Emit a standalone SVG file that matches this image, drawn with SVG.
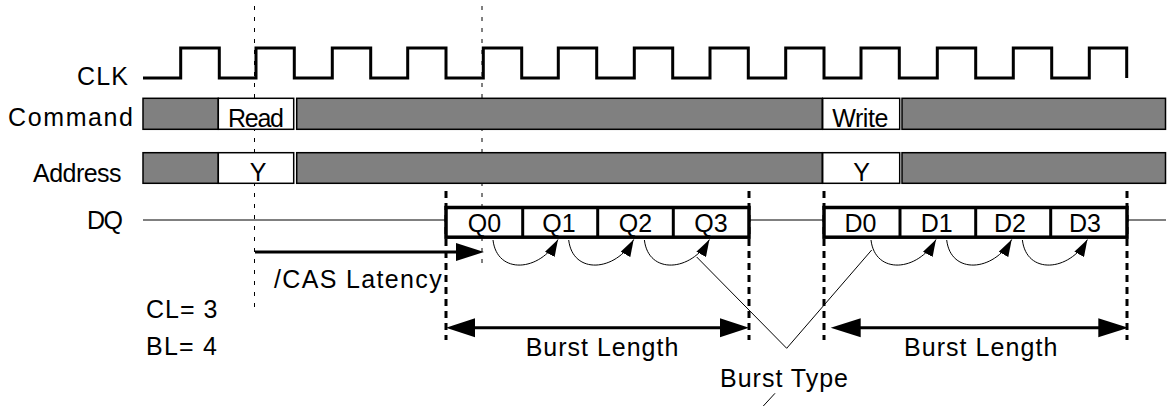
<svg xmlns="http://www.w3.org/2000/svg" width="1168" height="406" viewBox="0 0 1168 406">
<style>
text{font-family:"Liberation Sans",Arial,sans-serif;font-size:25px;fill:#000}
.cell{font-size:25px}
.mid{text-anchor:middle}
.gray{fill:#808080;stroke:#000;stroke-width:1.5}
.white{fill:#fff;stroke:#000;stroke-width:1.5}
.dq{fill:#fff;stroke:#000;stroke-width:3.5}
.thin{fill:none;stroke:#000;stroke-width:1}
.tdash{fill:none;stroke:#000;stroke-width:1;stroke-dasharray:4 7}
.kdash{fill:none;stroke:#000;stroke-width:3;stroke-dasharray:7 5}
.bold{fill:none;stroke:#000;stroke-width:3}
.head{fill:#000;stroke:none}
.arc{fill:none;stroke:#000;stroke-width:1;marker-end:url(#ah)}
</style>
<defs>
<marker id="ah" viewBox="0 0 17 11" refX="17" refY="5.5" markerWidth="17" markerHeight="11" markerUnits="userSpaceOnUse" orient="auto">
<path d="M0,0 L17,5.5 L0,11 Z" fill="#000"/>
</marker>
</defs>
<rect width="1168" height="406" fill="#fff"/>

<g id="guides">
<line class="tdash" x1="254.5" y1="6" x2="254.5" y2="308"/>
<line class="tdash" x1="482" y1="6" x2="482" y2="265"/>
<line class="kdash" x1="446" y1="191" x2="446" y2="340"/>
<line class="kdash" x1="749" y1="191" x2="749" y2="340"/>
<line class="kdash" x1="824" y1="191" x2="824" y2="340"/>
<line class="kdash" x1="1127" y1="191" x2="1127" y2="340"/>
</g>

<g id="clk">
<text x="77" y="84.5" textLength="51">CLK</text>
<path class="bold" stroke-width="2.5" d="M143,78 H180.7 V48 H219.3 V78 H256 V48 H294.3 V78 H332.3 V48 H370.7 V78 H407.7 V48 H446 V78 H483.3 V48 H521.7 V78 H558.3 V48 H596.7 V78 H634.3 V48 H672.7 V78 H710 V48 H748.3 V78 H785.7 V48 H824 V78 H861 V48 H899.3 V78 H937.3 V48 H975.7 V78 H1013.3 V48 H1051.7 V78 H1089.3 V48 H1126.7 V78"/>
</g>

<g id="command">
<text x="8" y="126" textLength="125">Command</text>
<rect class="gray" x="143" y="98.3" width="75.3" height="31"/>
<rect class="white" x="218.3" y="98.3" width="75.4" height="31"/>
<rect class="gray" x="296.7" y="98.3" width="525.5" height="31"/>
<rect class="white" x="822.7" y="98.3" width="77" height="31"/>
<rect class="gray" x="902" y="98.3" width="263.5" height="31"/>
<text class="cell mid" x="256" y="127" textLength="56">Read</text>
<text class="cell" x="832.3" y="127" textLength="56">Write</text>
</g>

<g id="address">
<text x="33" y="181.5" textLength="88.5">Address</text>
<rect class="gray" x="143" y="152.7" width="75.3" height="30.6"/>
<rect class="white" x="218.3" y="152.7" width="75.4" height="30.6"/>
<rect class="gray" x="296.7" y="152.7" width="525.5" height="30.6"/>
<rect class="white" x="822.7" y="152.7" width="77" height="30.6"/>
<rect class="gray" x="902" y="152.7" width="263.5" height="30.6"/>
<text class="cell mid" x="258" y="181">Y</text>
<text class="cell mid" x="861.7" y="181">Y</text>
</g>

<g id="dq">
<text x="87" y="229" textLength="36">DQ</text>
<line class="thin" x1="143" y1="220" x2="446" y2="220"/>
<line class="thin" x1="749" y1="220" x2="824" y2="220"/>
<line class="thin" x1="1127" y1="220" x2="1166" y2="220"/>
</g>

<g id="read-burst">
<rect class="dq" x="446" y="207.5" width="303" height="29.7"/>
<line class="bold" stroke-width="3.5" x1="522.7" y1="207.5" x2="522.7" y2="237.2"/>
<line class="bold" stroke-width="3.5" x1="597.7" y1="207.5" x2="597.7" y2="237.2"/>
<line class="bold" stroke-width="3.5" x1="673.3" y1="207.5" x2="673.3" y2="237.2"/>
<text class="cell mid" x="484.5" y="232">Q0</text>
<text class="cell mid" x="559" y="232">Q1</text>
<text class="cell mid" x="635.5" y="232">Q2</text>
<text class="cell mid" x="711" y="232">Q3</text>
</g>

<g id="write-burst">
<rect class="dq" x="824" y="207.5" width="303" height="29.7"/>
<line class="bold" stroke-width="3.5" x1="900" y1="207.5" x2="900" y2="237.2"/>
<line class="bold" stroke-width="3.5" x1="975.7" y1="207.5" x2="975.7" y2="237.2"/>
<line class="bold" stroke-width="3.5" x1="1050.7" y1="207.5" x2="1050.7" y2="237.2"/>
<text class="cell mid" x="860.5" y="232">D0</text>
<text class="cell mid" x="936.7" y="232">D1</text>
<text class="cell mid" x="1010" y="232">D2</text>
<text class="cell mid" x="1085" y="232">D3</text>
</g>

<g id="labels">
<text x="274" y="287.7" textLength="167.7">/CAS Latency</text>
<text x="146" y="318.3" textLength="71.3">CL= 3</text>
<text x="146" y="355" textLength="71">BL= 4</text>
<text x="525.7" y="356" textLength="152.6">Burst Length</text>
<text x="904" y="356" textLength="153.3">Burst Length</text>
<text x="720" y="386.7" textLength="128">Burst Type</text>
</g>

<g id="connectors">
<line class="bold" x1="255" y1="252" x2="458" y2="252"/>
<polygon class="head" points="456,243 484,252 456,261"/>
<line class="bold" x1="473" y1="327.7" x2="722" y2="327.7"/>
<polygon class="head" points="475,318.2 446,327.7 475,337.2"/>
<polygon class="head" points="720,318.2 749,327.7 720,337.2"/>
<line class="bold" x1="858" y1="327.7" x2="1100" y2="327.7"/>
<polygon class="head" points="860.7,318.2 830.7,327.7 860.7,337.2"/>
<polygon class="head" points="1098.3,318.2 1128.3,327.7 1098.3,337.2"/>
<path class="arc" d="M493,240 C497,275 540,272 558,239.5"/>
<path class="arc" d="M568.7,240 C572.7,275 615.7,272 633.7,239.5"/>
<path class="arc" d="M644.4,240 C648.4,275 691.4,272 709.4,239.5"/>
<path class="arc" d="M871,240 C875,275 918,272 936,239.5"/>
<path class="arc" d="M946.7,240 C950.7,275 993.7,272 1011.7,239.5"/>
<path class="arc" d="M1022.4,240 C1026.4,275 1069.4,272 1087.4,239.5"/>
<polyline class="thin" points="696.7,257 786.7,348.3 871.7,250"/>
<line class="thin" x1="775" y1="393.3" x2="763.3" y2="406"/>
</g>
</svg>
